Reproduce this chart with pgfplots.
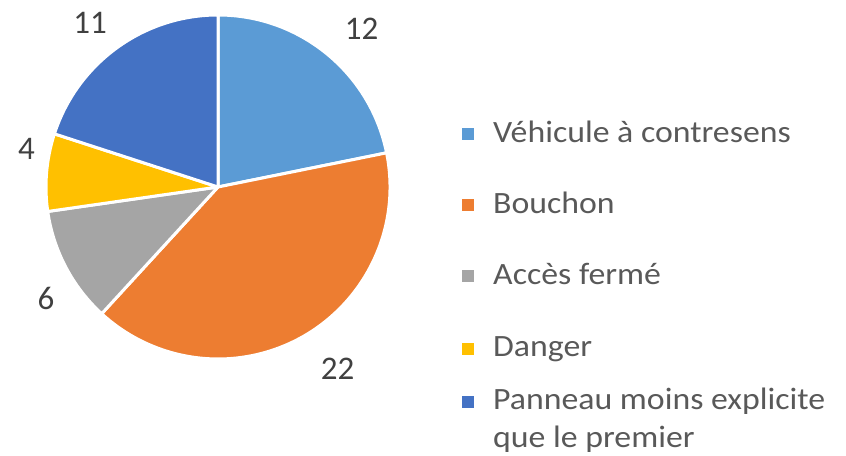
\documentclass[border=0pt]{standalone}
\usepackage{pgfplots}
\pgfplotsset{compat=1.18}
\usepackage{pgfplotstable}
\usepackage{fontspec}
\setmainfont{Carlito}
\newfontfamily\legfont[FakeStretch=1.09]{Carlito}
\definecolor{cA}{HTML}{5B9BD5}
\definecolor{cB}{HTML}{ED7D31}
\definecolor{cC}{HTML}{A5A5A5}
\definecolor{cD}{HTML}{FFC000}
\definecolor{cE}{HTML}{4472C4}
\definecolor{txt}{HTML}{595959}
\definecolor{lab}{HTML}{404040}
\pgfplotstableread[col sep=comma]{
label,value
Véhicule à contresens,12
Bouchon,22
Accès fermé,6
Danger,4
Panneau moins explicite que le premier,11
}\piedata
\newcommand\getv[2]{\pgfplotstablegetelem{#1}{value}\of\piedata\edef#2{\pgfplotsretval}}
\getv{0}\vA \getv{1}\vB \getv{2}\vC \getv{3}\vD \getv{4}\vE
\pgfmathsetmacro\tot{\vA+\vB+\vC+\vD+\vE}
\pgfmathsetmacro\aA{90}
\pgfmathsetmacro\aB{\aA-360*\vA/\tot}
\pgfmathsetmacro\aC{\aB-360*\vB/\tot}
\pgfmathsetmacro\aD{\aC-360*\vC/\tot}
\pgfmathsetmacro\aE{\aD-360*\vD/\tot}
\pgfmathsetmacro\aF{\aE-360*\vE/\tot}
\newcommand\slice[3]{\fill[#1, draw=white, line width=3bp, line join=round] (axis cs:218,269) -- ++(#2:172bp) arc[start angle=#2, end angle=#3, radius=172bp] -- cycle;}
\newcommand\lbl[3]{\node[text=lab, font=\fontsize{33bp}{38bp}\selectfont, inner sep=0pt] at (axis cs:#1,{456-#2}) {#3};}
\newcommand\leg[2]{\fill[#1] (axis cs:462,{456-#2-6}) rectangle (axis cs:474,{456-#2+6});}
\begin{document}
\begin{tikzpicture}
\begin{axis}[x=1bp, y=1bp, xmin=0, xmax=846, ymin=0, ymax=456, hide axis, clip=false, scale only axis]
\path (axis cs:0,0) rectangle (axis cs:846,456);
\slice{cA}{\aA}{\aB}
\slice{cB}{\aB}{\aC}
\slice{cC}{\aC}{\aD}
\slice{cD}{\aD}{\aE}
\slice{cE}{\aE}{\aF}
\lbl{361.5}{29}{\vA}
\lbl{337.5}{369}{\vB}
\lbl{46}{298}{\vC}
\lbl{26.5}{148.5}{\vD}
\lbl{90}{22.5}{\vE}
\leg{cA}{134}
\leg{cB}{205}
\leg{cC}{276}
\leg{cD}{349}
\leg{cE}{402}
\begin{scope}[every node/.style={anchor=base west, inner sep=0pt, text=txt, font=\legfont\fontsize{31bp}{38bp}\selectfont}]
\node at (axis cs:493,{456-143}) {Véhicule à contresens};
\node at (axis cs:493,{456-214}) {Bouchon};
\node at (axis cs:493,{456-285}) {Accès fermé};
\node at (axis cs:493,{456-357}) {Danger};
\node at (axis cs:493,{456-410}) {Panneau moins explicite};
\node at (axis cs:493,{456-448}) {que le premier};
\end{scope}
\end{axis}
\end{tikzpicture}
\end{document}
